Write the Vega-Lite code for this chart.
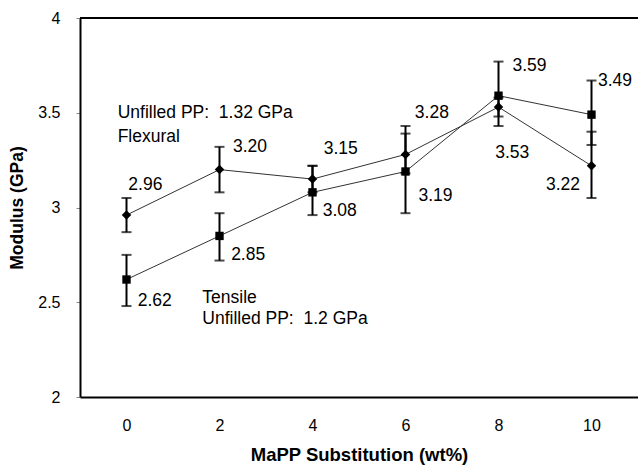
{
  "$schema": "https://vega.github.io/schema/vega-lite/v6.json",
  "autosize": "none",
  "width": 558,
  "height": 379,
  "padding": {"left": 80, "top": 18, "right": 0, "bottom": 71},
  "background": "white",
  "config": {
    "view": {"stroke": null},
    "font": "Liberation Sans",
    "axis": {"grid": false, "domainColor": "black", "domainWidth": 2, "labelFont": "Liberation Sans", "titleFont": "Liberation Sans", "labelColor": "black", "titleColor": "black"}
  },
  "datasets": {
    "pts": [
      {"x": 0, "series": "Flexural", "value": 2.96, "lo": 2.87, "hi": 3.05},
      {"x": 2, "series": "Flexural", "value": 3.20, "lo": 3.08, "hi": 3.32},
      {"x": 4, "series": "Flexural", "value": 3.15, "lo": 3.08, "hi": 3.22},
      {"x": 6, "series": "Flexural", "value": 3.28, "lo": 3.18, "hi": 3.39},
      {"x": 8, "series": "Flexural", "value": 3.53, "lo": 3.48, "hi": 3.58},
      {"x": 10, "series": "Flexural", "value": 3.22, "lo": 3.05, "hi": 3.40},
      {"x": 0, "series": "Tensile", "value": 2.62, "lo": 2.48, "hi": 2.75},
      {"x": 2, "series": "Tensile", "value": 2.85, "lo": 2.72, "hi": 2.97},
      {"x": 4, "series": "Tensile", "value": 3.08, "lo": 2.96, "hi": 3.22},
      {"x": 6, "series": "Tensile", "value": 3.19, "lo": 2.97, "hi": 3.43},
      {"x": 8, "series": "Tensile", "value": 3.59, "lo": 3.43, "hi": 3.77},
      {"x": 10, "series": "Tensile", "value": 3.49, "lo": 3.33, "hi": 3.67}
    ],
    "notes": [
      {"x": 0.04, "y": 3.12, "text": "2.96"},
      {"x": 2.29, "y": 3.317, "text": "3.20"},
      {"x": 4.24, "y": 3.307, "text": "3.15"},
      {"x": 6.2, "y": 3.50, "text": "3.28"},
      {"x": 8.3, "y": 3.745, "text": "3.59"},
      {"x": 10.14, "y": 3.666, "text": "3.49"},
      {"x": 7.93, "y": 3.29, "text": "3.53"},
      {"x": 9.02, "y": 3.12, "text": "3.22"},
      {"x": 6.28, "y": 3.06, "text": "3.19"},
      {"x": 4.22, "y": 2.98, "text": "3.08"},
      {"x": 2.25, "y": 2.75, "text": "2.85"},
      {"x": 0.24, "y": 2.504, "text": "2.62"},
      {"x": -0.19, "y": 3.50, "text": "Unfilled PP:\u00a0 1.32 GPa"},
      {"x": -0.19, "y": 3.37, "text": "Flexural"},
      {"x": 1.63, "y": 2.525, "text": "Tensile"},
      {"x": 1.63, "y": 2.41, "text": "Unfilled PP:\u00a0 1.2 GPa"}
    ],
    "border": [{"y": 4}]
  },
  "layer": [
    {
      "data": {"name": "border"},
      "mark": {"type": "rule", "color": "black", "strokeWidth": 2},
      "encoding": {"y": {"field": "y", "type": "quantitative", "title": "Modulus (GPa)", "scale": {"domain": [2, 4]}}}
    },
    {
      "data": {"name": "pts"},
      "mark": {"type": "line", "color": "#333333", "strokeWidth": 1},
      "encoding": {
        "x": {"field": "x", "type": "quantitative", "scale": {"domain": [-1, 11], "nice": false, "zero": false},
              "axis": {"values": [0, 2, 4, 6, 8, 10], "ticks": false, "labelFontSize": 16, "labelPadding": 20, "title": "MaPP Substitution (wt%)", "titleFontSize": 18.5, "titleFontWeight": "bold", "titlePadding": 12}},
        "y": {"field": "value", "type": "quantitative", "title": "Modulus (GPa)", "scale": {"domain": [2, 4], "nice": false, "zero": false},
              "axis": {"values": [2, 2.5, 3, 3.5, 4], "format": "~g", "tickSize": 4, "tickColor": "#888888", "tickWidth": 1, "labelFontSize": 16, "labelPadding": 16, "titleFontSize": 17.5, "titleFontWeight": "bold", "titlePadding": 11}},
        "detail": {"field": "series"}
      }
    },
    {
      "data": {"name": "pts"},
      "mark": {"type": "errorbar", "color": "black", "thickness": 2, "ticks": {"size": 10, "thickness": 2, "color": "black"}},
      "encoding": {
        "x": {"field": "x", "type": "quantitative", "title": "MaPP Substitution (wt%)"},
        "y": {"field": "lo", "type": "quantitative", "title": "Modulus (GPa)"},
        "y2": {"field": "hi"}
      }
    },
    {
      "data": {"name": "pts"},
      "mark": {"type": "point", "filled": true, "color": "black", "opacity": 1},
      "encoding": {
        "x": {"field": "x", "type": "quantitative", "title": "MaPP Substitution (wt%)"},
        "y": {"field": "value", "type": "quantitative", "title": "Modulus (GPa)"},
        "shape": {"field": "series", "type": "nominal", "scale": {"domain": ["Flexural", "Tensile"], "range": ["diamond", "square"]}, "legend": null},
        "size": {"field": "series", "type": "nominal", "scale": {"domain": ["Flexural", "Tensile"], "range": [90, 70]}, "legend": null}
      }
    },
    {
      "data": {"name": "notes"},
      "mark": {"type": "text", "align": "left", "baseline": "middle", "fontSize": 17.5, "color": "black"},
      "encoding": {
        "x": {"field": "x", "type": "quantitative", "title": "MaPP Substitution (wt%)"},
        "y": {"field": "y", "type": "quantitative", "title": "Modulus (GPa)"},
        "text": {"field": "text"}
      }
    }
  ]
}
